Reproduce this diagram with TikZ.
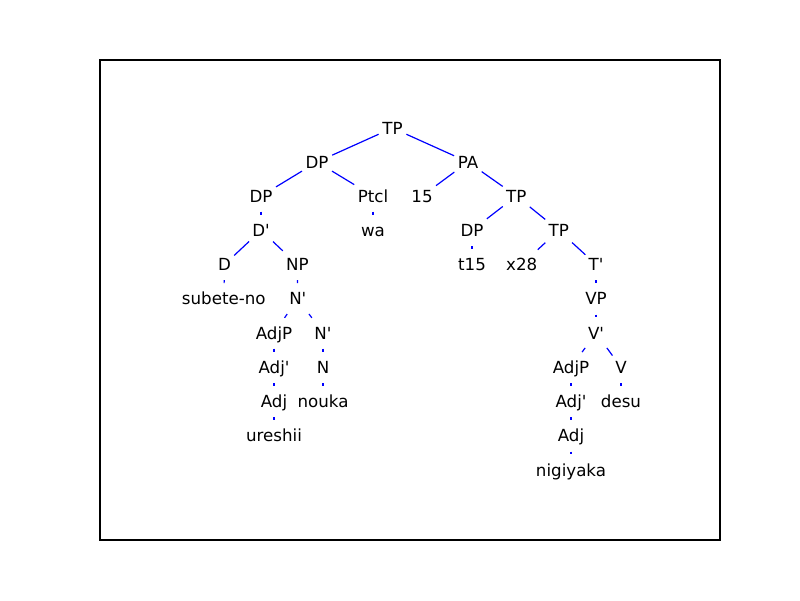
\documentclass[tikz,border=0pt]{standalone}
\usepackage{fontspec}
\setmainfont{DejaVu Sans}
\newcommand{\pr}{\textquotesingle}
\begin{document}
\begin{tikzpicture}[x=1pt,y=-1pt,
  tn/.style={inner xsep=1pt,inner ysep=0pt,text height=18.8pt,text depth=6.6pt,font=\fontsize{16.67}{20}\selectfont},
  br/.style={draw=blue,line width=1.2pt,shorten >=2.8pt,shorten <=2.8pt}]
\useasboundingbox (0,0) rectangle (800,600);
\draw[line width=1.1pt] (100,60) rectangle (720,540);
% rows
\node[tn] (tp) at (392.5,128) {TP};
\node[tn] (dp1) at (317,162) {DP};
\node[tn] (pa) at (468,162) {PA};
\node[tn] (dp2) at (261,196) {DP};
\node[tn] (ptcl) at (373,196) {Ptcl};
\node[tn] (n15) at (422,196) {15};
\node[tn] (tp2) at (516.3,196) {TP};
\node[tn] (dbar) at (261,230.3) {D\pr};
\node[tn] (wa) at (373,230.3) {wa};
\node[tn] (dp3) at (472,230.3) {DP};
\node[tn] (tp3) at (558.7,230.3) {TP};
\node[tn] (d) at (224.5,264.5) {D};
\node[tn] (np) at (297.3,264.5) {NP};
\node[tn] (t15) at (472,264.5) {t15};
\node[tn] (x28) at (521.7,264.5) {x28};
\node[tn] (tbar) at (596,264.5) {T\pr};
\node[tn] (subete) at (223.8,298.8) {subete-no};
\node[tn] (nbar1) at (297.8,298.8) {N\pr};
\node[tn] (vp) at (596,298.8) {VP};
\node[tn] (adjp1) at (274,333) {AdjP};
\node[tn] (nbar2) at (323,333) {N\pr};
\node[tn] (vbar) at (596,333) {V\pr};
\node[tn] (adjbar1) at (274,367.3) {Adj\pr};
\node[tn] (n) at (323,367.3) {N};
\node[tn] (adjp2) at (571,367.3) {AdjP};
\node[tn] (v) at (621,367.3) {V};
\node[tn] (adj1) at (274,401.5) {Adj};
\node[tn] (nouka) at (323,401.5) {nouka};
\node[tn] (adjbar2) at (571,401.5) {Adj\pr};
\node[tn] (desu) at (621,401.5) {desu};
\node[tn] (ureshii) at (274,435.8) {ureshii};
\node[tn] (adj2) at (571,435.8) {Adj};
\node[tn] (nigiyaka) at (571,470) {nigiyaka};
% branches
\draw[br] (tp) -- (dp1);
\draw[br] (tp) -- (pa);
\draw[br] (dp1) -- (dp2);
\draw[br] (dp1) -- (ptcl);
\draw[br] (pa) -- (n15);
\draw[br] (pa) -- (tp2);
\draw[br] (dp2) -- (dbar);
\draw[br] (ptcl) -- (wa);
\draw[br] (tp2) -- (dp3);
\draw[br] (tp2) -- (tp3);
\draw[br] (dbar) -- (d);
\draw[br] (dbar) -- (np);
\draw[br] (dp3) -- (t15);
\draw[br] (tp3) -- (x28);
\draw[br] (tp3) -- (tbar);
\draw[br] (d) -- (subete);
\draw[br] (np) -- (nbar1);
\draw[br] (tbar) -- (vp);
\draw[br] (nbar1) -- (adjp1);
\draw[br] (nbar1) -- (nbar2);
\draw[br] (vp) -- (vbar);
\draw[br] (adjp1) -- (adjbar1);
\draw[br] (nbar2) -- (n);
\draw[br] (vbar) -- (adjp2);
\draw[br] (vbar) -- (v);
\draw[br] (adjbar1) -- (adj1);
\draw[br] (n) -- (nouka);
\draw[br] (adjp2) -- (adjbar2);
\draw[br] (v) -- (desu);
\draw[br] (adj1) -- (ureshii);
\draw[br] (adjbar2) -- (adj2);
\draw[br] (adj2) -- (nigiyaka);
\end{tikzpicture}
\end{document}
